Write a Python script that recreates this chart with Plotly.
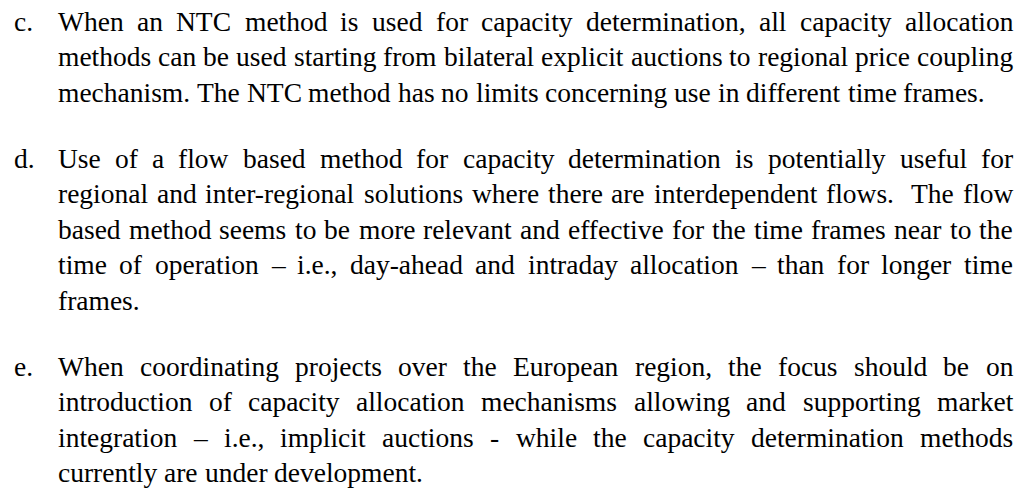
import glob
import struct
import plotly.graph_objects as go

# ---------------- data (text content) ----------------
labels = ["c.", "d.", "e."]
para_c = [
    "When an NTC method is used for capacity determination, all capacity allocation",
    "methods can be used starting from bilateral explicit auctions to regional price coupling",
    "mechanism. The NTC method has no limits concerning use in different time frames.",
]
para_d = [
    "Use of a flow based method for capacity determination is potentially useful for",
    "regional and inter-regional solutions where there are interdependent flows.  The flow",
    "based method seems to be more relevant and effective for the time frames near to the",
    "time of operation \u2013 i.e., day-ahead and intraday allocation \u2013 than for longer time",
    "frames.",
]
para_e = [
    "When coordinating projects over the European region, the focus should be on",
    "introduction of capacity allocation mechanisms allowing and supporting market",
    "integration \u2013 i.e., implicit auctions - while the capacity determination methods",
    "currently are under development.",
]
paragraphs = [para_c, para_d, para_e]

# ---------------- layout / style ----------------
W, H = 1024, 489
FONT = "Liberation Serif, Times New Roman, serif"
FS = 27.5
LABEL_X = 14
TEXT_LEFT = 58
TEXT_RIGHT = 1013
FIRST_LINE_Y = 21      # x-height centre of first line
LINE_STEP = 35.5
PARA_STEP = 66
Y_OFF = 0


def make_width_fn():
    paths = glob.glob("/usr/share/fonts/**/LiberationSerif-Regular.ttf", recursive=True)
    paths += glob.glob("/usr/**/LiberationSerif-Regular.ttf", recursive=True)
    if not paths:
        return lambda s: 0.46 * len(s)
    data = open(paths[0], "rb").read()
    num = struct.unpack(">H", data[4:6])[0]
    tables = {}
    for i in range(num):
        tag, cs, off, ln = struct.unpack(">4sIII", data[12 + 16 * i:28 + 16 * i])
        tables[tag.decode("latin1")] = off
    head = tables["head"]
    upem = struct.unpack(">H", data[head + 18:head + 20])[0]
    hhea = tables["hhea"]
    nhm = struct.unpack(">H", data[hhea + 34:hhea + 36])[0]
    hmtx = tables["hmtx"]
    adv = [struct.unpack(">H", data[hmtx + 4 * i:hmtx + 4 * i + 2])[0] for i in range(nhm)]
    cmap = tables["cmap"]
    n = struct.unpack(">H", data[cmap + 2:cmap + 4])[0]
    sub = None
    for i in range(n):
        pid, eid, off = struct.unpack(">HHI", data[cmap + 4 + 8 * i:cmap + 12 + 8 * i])
        fmt = struct.unpack(">H", data[cmap + off:cmap + off + 2])[0]
        if fmt == 4:
            sub = cmap + off
            break
    segx2 = struct.unpack(">H", data[sub + 6:sub + 8])[0]
    segs = segx2 // 2
    ends = struct.unpack(">%dH" % segs, data[sub + 14:sub + 14 + segx2])
    starts = struct.unpack(">%dH" % segs, data[sub + 16 + segx2:sub + 16 + 2 * segx2])
    deltas = struct.unpack(">%dh" % segs, data[sub + 16 + 2 * segx2:sub + 16 + 3 * segx2])
    rpos = sub + 16 + 3 * segx2
    roffs = struct.unpack(">%dH" % segs, data[rpos:rpos + segx2])

    def gid(ch):
        c = ord(ch)
        for i in range(segs):
            if starts[i] <= c <= ends[i]:
                if roffs[i] == 0:
                    return (c + deltas[i]) & 0xFFFF
                addr = rpos + 2 * i + roffs[i] + 2 * (c - starts[i])
                g = struct.unpack(">H", data[addr:addr + 2])[0]
                return (g + deltas[i]) & 0xFFFF if g else 0
        return 0

    def width(s):
        return sum(adv[min(gid(ch), nhm - 1)] for ch in s) / upem

    return width


wfn = make_width_fn()
space_w = wfn(" ") * FS

fig = go.Figure()
annotations = []


def add_text(x, y, txt):
    annotations.append(dict(
        x=x, y=y + Y_OFF, xref="x", yref="y", text=txt, showarrow=False,
        xanchor="left", yanchor="middle", borderpad=0, borderwidth=0,
        font=dict(family=FONT, size=FS, color="#000000"),
    ))


y = FIRST_LINE_Y
for p_idx, (lab, lines) in enumerate(zip(labels, paragraphs)):
    if p_idx > 0:
        y += PARA_STEP - LINE_STEP
    add_text(LABEL_X, y, lab)
    for l_idx, line in enumerate(lines):
        words = line.split(" ")
        widths = [wfn(w) * FS for w in words]
        last = l_idx == len(lines) - 1
        if last or len(words) < 2:
            gap = space_w
        else:
            gap = (TEXT_RIGHT - TEXT_LEFT - sum(widths)) / (len(words) - 1)
        x = TEXT_LEFT
        for w, wd in zip(words, widths):
            if w:
                add_text(x, y, w)
            x += wd + gap
        y += LINE_STEP

fig.add_trace(go.Scatter(x=[0, W], y=[0, H], mode="markers",
                         marker=dict(opacity=0), hoverinfo="skip", showlegend=False))
fig.update_layout(
    width=W, height=H, margin=dict(l=0, r=0, t=0, b=0),
    paper_bgcolor="white", plot_bgcolor="white",
    xaxis=dict(range=[0, W], visible=False, fixedrange=True),
    yaxis=dict(range=[H, 0], visible=False, fixedrange=True),
    annotations=annotations, showlegend=False,
)
fig.write_html(
    "out.html",
    config={"displayModeBar": False},
    post_script="document.body.style.margin='0px';document.body.style.overflow='hidden';",
)
